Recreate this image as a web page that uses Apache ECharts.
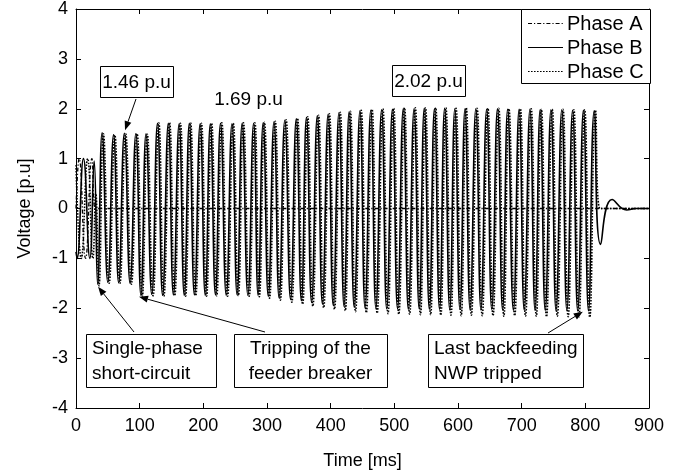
<!DOCTYPE html>
<html><head><meta charset="utf-8">
<script src="https://cdn.jsdelivr.net/npm/echarts@6/dist/echarts.min.js"></script>
<style>html,body{margin:0;padding:0;background:#fff}#c{width:693px;height:472px}</style>
</head><body><div id="c"></div>
<script>
// ---------- DATA ----------
const xTickLabels = [0,100,200,300,400,500,600,700,800,900];
const yTickLabels = [-4,-3,-2,-1,0,1,2,3,4];
const seriesNames = ['Phase A','Phase B','Phase C'];

// Phase A (faulted phase): pre-fault extrema, then ~0
const phaseA_t = [0, 5, 15, 25, 30.5, 36, 900];
const phaseA_v = [0, 1.0, -1.0, 1.0, 0, 0, 0];

// Phase B: pre-fault extrema, post-fault troughs/peaks, tail
const phaseB_preT = [0, 1.7, 11.7, 21.7, 28.5];
const phaseB_preV = [-0.87, -1.0, 1.0, -1.0, 0.95];
const phaseB_troughT = [34,50,67,85,102,119,136,153,170,186,203,219,236,253,270,286,302,319,337,354,370,387,404,421,437,454,471,488,505,522,539,555,571,587,603,619,636,653,670,687,704,721,737,754,771,788,805];
const phaseB_troughV = [-1.52,-1.48,-1.49,-1.50,-1.74,-1.72,-1.74,-1.73,-1.74,-1.73,-1.74,-1.73,-1.74,-1.73,-1.74,-1.74,-1.76,-1.79,-1.82,-1.85,-1.88,-1.91,-1.94,-1.96,-1.98,-1.99,-2.00,-2.01,-2.01,-2.02,-2.01,-2.02,-2.02,-2.03,-2.02,-2.03,-2.03,-2.02,-2.03,-2.04,-2.03,-2.04,-2.04,-2.05,-2.04,-2.05,-2.05];
const phaseB_peakT = [41,59,76,94,110,128,145,162,178,195,211,227,245,261,279,294,311,328,346,362,379,396,413,429,446,463,480,497,514,531,547,563,579,595,611,628,645,662,678,696,713,729,746,763,780,797,814];
const phaseB_peakV = [1.52,1.48,1.51,1.50,1.50,1.71,1.71,1.70,1.71,1.70,1.70,1.71,1.70,1.71,1.71,1.72,1.74,1.77,1.80,1.83,1.86,1.89,1.92,1.94,1.96,1.97,1.98,1.99,2.00,2.00,2.01,2.00,2.01,2.00,2.00,2.00,1.99,2.00,1.99,1.99,1.99,1.98,1.98,1.98,1.97,1.97,1.96];
const phaseB_tailT = [824, 842, 865, 880, 900];
const phaseB_tailV = [-0.72, 0.18, -0.03, 0, 0];

// Phase C
const phaseC_preT = [0, 8.3, 18.3, 26.5, 31];
const phaseC_preV = [0.87, -1.0, 1.0, -1.0, 0.3];
const phaseC_troughT = [36,52,69,87,104,121,138,155,172,188,205,221,238,255,272,288,304,321,339,356,372,389,406,423,439,456,473,490,507,524,541,557,573,589,605,621,638,655,672,689,706,723,739,756,773,790,807];
const phaseC_troughV = [-1.55,-1.50,-1.50,-1.52,-1.77,-1.75,-1.76,-1.75,-1.76,-1.75,-1.76,-1.75,-1.76,-1.75,-1.76,-1.77,-1.80,-1.84,-1.88,-1.92,-1.96,-1.99,-2.02,-2.05,-2.07,-2.09,-2.10,-2.11,-2.12,-2.12,-2.13,-2.13,-2.14,-2.14,-2.15,-2.14,-2.15,-2.15,-2.16,-2.15,-2.16,-2.16,-2.17,-2.16,-2.17,-2.17,-2.18];
const phaseC_peakT = [43,61,78,96,112,130,147,164,180,197,213,229,247,263,281,296,313,330,348,364,381,398,415,431,448,465,482,499,516,533,549,565,581,597,613,630,647,664,680,698,715,731,748,765,782,799,816];
const phaseC_peakV = [1.50,1.47,1.50,1.50,1.49,1.72,1.72,1.71,1.72,1.71,1.71,1.72,1.71,1.72,1.72,1.73,1.75,1.78,1.81,1.84,1.87,1.90,1.93,1.95,1.97,1.99,2.00,2.01,2.02,2.02,2.02,2.02,2.02,2.01,2.02,2.01,2.01,2.01,2.00,2.00,2.00,1.99,1.99,1.99,1.98,1.98,1.97];
const phaseC_tailT = [823, 900];
const phaseC_tailV = [0, 0];

// ---------- build series data ----------
function pairs(t, v){ return t.map((x,i)=>[x, v[i]]); }
function wave(preT,preV,trT,trV,pkT,pkV,tlT,tlV){
  const d = pairs(preT,preV);
  for(let i=0;i<trT.length;i++){ d.push([trT[i],trV[i]]); d.push([pkT[i],pkV[i]]); }
  return d.concat(pairs(tlT,tlV));
}
const dataA = pairs(phaseA_t, phaseA_v);
const dataB = wave(phaseB_preT,phaseB_preV,phaseB_troughT,phaseB_troughV,phaseB_peakT,phaseB_peakV,phaseB_tailT,phaseB_tailV);
const dataC = wave(phaseC_preT,phaseC_preV,phaseC_troughT,phaseC_troughV,phaseC_peakT,phaseC_peakV,phaseC_tailT,phaseC_tailV);

const FONT = '"Liberation Sans", Arial, Helvetica, sans-serif';
const DASH_A = [4,2,1.2,2], DASH_C = [1.6,1.4];
const axisCommon = {
  axisLine:{show:true,onZero:false,lineStyle:{color:'#000',width:1}},
  axisTick:{show:true,inside:true,length:5,lineStyle:{color:'#000'}},
  splitLine:{show:false}
};
const option = {
  animation:false,
  backgroundColor:'#fff',
  grid:{left:76,right:44,top:9,bottom:64,containLabel:false,outerBoundsMode:'none'},
  xAxis:[
    Object.assign({type:'value',min:xTickLabels[0],max:xTickLabels[xTickLabels.length-1],interval:100,position:'bottom',
      name:'Time [ms]',nameLocation:'middle',nameGap:44,
      nameTextStyle:{fontFamily:FONT,fontSize:18,color:'#000'},
      axisLabel:{fontFamily:FONT,fontSize:18,color:'#000',margin:9}},axisCommon),
    Object.assign({type:'value',min:0,max:900,interval:100,position:'top',axisLabel:{show:false}},axisCommon)
  ],
  yAxis:[
    Object.assign({type:'value',min:yTickLabels[0],max:yTickLabels[yTickLabels.length-1],interval:1,position:'left',
      name:'Voltage [p.u]',nameLocation:'middle',nameGap:42,nameRotate:90,
      nameTextStyle:{fontFamily:FONT,fontSize:18,color:'#000'},
      axisLabel:{fontFamily:FONT,fontSize:18,color:'#000',margin:8}},axisCommon),
    Object.assign({type:'value',min:-4,max:4,interval:1,position:'right',axisLabel:{show:false}},axisCommon)
  ],
  series:[
    {name:seriesNames[0],type:'line',data:dataA,symbol:'none',smooth:0.5,z:3,
     lineStyle:{color:'#000',width:1.3,type:DASH_A}},
    {name:seriesNames[1],type:'line',data:dataB,symbol:'none',smooth:0.5,z:2,
     lineStyle:{color:'#000',width:1.6,type:'solid'}},
    {name:seriesNames[2],type:'line',data:dataC,symbol:'none',smooth:0.5,z:2,
     lineStyle:{color:'#000',width:1.6,type:DASH_C}}
  ]
};
const chart = echarts.init(document.getElementById('c'), null, {renderer:'canvas'});
chart.setOption(option);

// ---------- legend (drawn) ----------
const g = [];
g.push({type:'rect',shape:{x:521.5,y:9.5,width:129,height:74},style:{fill:'#fff',stroke:'#000',lineWidth:1},z:100});
const legendDash = [DASH_A, null, DASH_C];
seriesNames.forEach((nm,i)=>{
  const cy = 23 + i*24;
  g.push({type:'line',shape:{x1:528,y1:cy+0.5,x2:563,y2:cy+0.5},
    style:{stroke:'#000',lineWidth:1,lineDash:legendDash[i]},z:101});
  g.push({type:'text',x:567,y:cy+1,z:101,
    style:{text:nm,fill:'#000',font:'20px '+FONT,align:'left',verticalAlign:'middle'}});
});

// ---------- annotations ----------
const notes = [
  {text:'1.46 p.u', x:100, y:66, w:73, h:31, align:'center', border:true},
  {text:'1.69 p.u', x:212, y:83, w:73, h:31, align:'center', border:false},
  {text:'2.02 p.u', x:392, y:65, w:73, h:31, align:'center', border:true},
  {text:'Single-phase\nshort-circuit', x:86, y:334, w:130, h:53, align:'left', border:true},
  {text:'Tripping of the\nfeeder breaker', x:234, y:334, w:153, h:53, align:'center', border:true},
  {text:'Last backfeeding\nNWP tripped', x:428, y:334, w:155, h:53, align:'left', border:true}
];
const arrows = [
  {from:[136,99], tip:[77,1.57]},
  {from:[134,332], tip:[34.6,-1.57]},
  {from:[265,332], tip:[99,-1.77]},
  {from:[548,333], tip:[796,-2.07]}
];
notes.forEach(n=>{
  if(n.border) g.push({type:'rect',shape:{x:n.x+0.5,y:n.y+0.5,width:n.w,height:n.h},
    style:{fill:'#fff',stroke:'#000',lineWidth:1},z:100});
  g.push({type:'text',x:n.align==='left'?n.x+6:n.x+n.w/2,y:n.y+n.h/2+1,z:101,
    style:{text:n.text,fill:'#000',font:'19px '+FONT,align:n.align,verticalAlign:'middle',lineHeight:25}});
});
arrows.forEach(a=>{
  const tp = chart.convertToPixel({xAxisIndex:0,yAxisIndex:0}, a.tip);
  const fx=a.from[0], fy=a.from[1];
  const dx=tp[0]-fx, dy=tp[1]-fy, L=Math.sqrt(dx*dx+dy*dy), ux=dx/L, uy=dy/L;
  const hl=9, hw=3.5;
  const bx=tp[0]-ux*hl, by=tp[1]-uy*hl;
  g.push({type:'line',shape:{x1:fx,y1:fy,x2:bx,y2:by},style:{stroke:'#000',lineWidth:1},z:102});
  g.push({type:'polygon',shape:{points:[[tp[0],tp[1]],[bx-uy*hw,by+ux*hw],[bx+uy*hw,by-ux*hw]]},
    style:{fill:'#000'},z:102});
});
chart.setOption({graphic:g});
</script></body></html>
